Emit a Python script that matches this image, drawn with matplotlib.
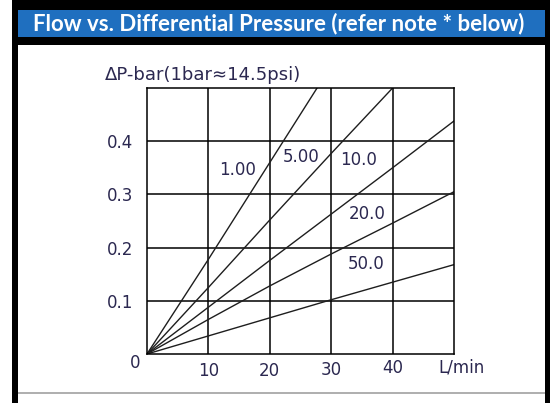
import matplotlib
matplotlib.use("Agg")
import matplotlib.pyplot as plt
import matplotlib.patches as mpatches
import numpy as np

# flow (L/min) vs pressure drop (bar) for each curve
flow_a = [0, 10, 20, 27.7]
dp_a = [0, 0.178, 0.360, 0.500]
flow_b = [0, 10, 20, 30, 40]
dp_b = [0, 0.125, 0.252, 0.377, 0.500]
flow_c = [0, 10, 20, 30, 40, 50]
dp_c = [0, 0.088, 0.176, 0.263, 0.350, 0.438]
flow_d = [0, 10, 20, 30, 40, 50]
dp_d = [0, 0.065, 0.128, 0.188, 0.246, 0.305]
flow_e = [0, 10, 20, 30, 40, 50]
dp_e = [0, 0.034, 0.068, 0.102, 0.135, 0.168]

curve_labels = ["1.00", "5.00", "10.0", "20.0", "50.0"]
label_x = [14.8, 25.1, 34.4, 35.8, 35.7]
label_y = [0.346, 0.370, 0.364, 0.263, 0.169]

xticks = [10, 20, 30, 40]
xtick_labels = ["10", "20", "30", "40"]
yticks = [0.1, 0.2, 0.3, 0.4]
ytick_labels = ["0.1", "0.2", "0.3", "0.4"]

title = "Flow vs. Differential Pressure (refer note * below)"
ylabel = "\u0394P-bar(1bar\u224814.5psi)"
xlabel = "L/min"

W, H = 553, 403
txt_col = "#2b2850"
line_col = "#1e1e1e"
fs = 12

fig = plt.figure(figsize=(W / 100, H / 100), dpi=100)


def px_rect(x0, y0, x1, y1, color, z):
    # rectangle given in pixel coords, y measured from the top
    r = mpatches.Rectangle((x0 / W, 1 - y1 / H), (x1 - x0) / W, (y1 - y0) / H,
                           transform=fig.transFigure, facecolor=color,
                           edgecolor="none", zorder=z)
    fig.patches.append(r)


# frame
px_rect(12, 0, 550, 403, "black", -10)
px_rect(18, 10, 545, 37, "#1f6fbf", -9)
px_rect(18, 45, 545, 403, "white", -9)
px_rect(18, 392, 545, 394, "#b0b0b0", -8)

fig.text(278.5 / W, 1 - 24 / H, title, color="white", fontsize=16,
         fontweight="bold", family="Lato", ha="center", va="center")

ax = fig.add_axes([147 / W, (H - 354) / H, 307 / W, 266 / H])
ax.set_xlim(0, 50)
ax.set_ylim(0, 0.5)

for fx, dp in [(flow_a, dp_a), (flow_b, dp_b), (flow_c, dp_c),
               (flow_d, dp_d), (flow_e, dp_e)]:
    ax.plot(fx, dp, color=line_col, lw=1.0, clip_on=True)

for t, x, y in zip(curve_labels, label_x, label_y):
    ax.text(x, y, t, color=txt_col, fontsize=fs, ha="center", va="center")

ax.set_xticks(xticks)
ax.set_xticklabels([])
ax.set_yticks(yticks)
ax.set_yticklabels(ytick_labels, color=txt_col, fontsize=fs)
ax.tick_params(length=0, pad=10)
ax.grid(True, color="black", lw=1.1)
for s in ax.spines.values():
    s.set_color("black")
    s.set_linewidth(1.1)

# x tick labels sit a little unevenly under the axis
xt = ax.get_xaxis_transform()
xlab_off = [-0.064, -0.064, -0.06, -0.053]
for v, t, off in zip(xticks, xtick_labels, xlab_off):
    ax.text(v, off, t, transform=xt, color=txt_col, fontsize=fs,
            ha="center", va="center")
ax.text(-2, -0.034, "0", transform=xt, color=txt_col, fontsize=fs,
        ha="center", va="center")
ax.text(51.3, -0.05, xlabel, transform=xt, color=txt_col, fontsize=fs,
        ha="center", va="center")
ax.text(105 / W, 1 - 75 / H, ylabel, transform=fig.transFigure, color=txt_col,
        fontsize=13, ha="left", va="center")

fig.savefig("out.png", dpi=100)
